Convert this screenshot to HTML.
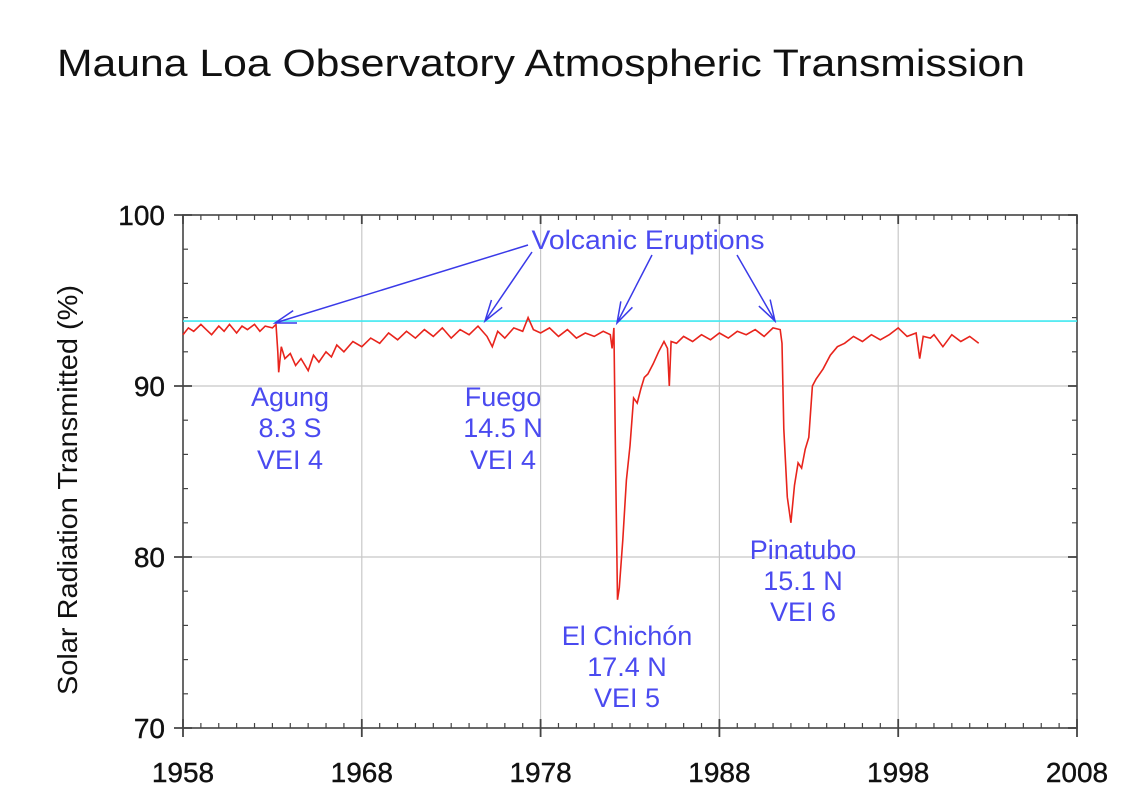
<!DOCTYPE html>
<html><head><meta charset="utf-8"><style>
body{margin:0;background:#fff;}
svg text{font-family:"Liberation Sans",Arial,sans-serif;}
</style></head><body>
<svg width="1136" height="806" xmlns="http://www.w3.org/2000/svg">
<text x="57" y="76" font-size="38" fill="#111" textLength="968" lengthAdjust="spacingAndGlyphs">Mauna Loa Observatory Atmospheric Transmission</text>
<text transform="translate(77,490) rotate(-90)" text-anchor="middle" font-size="28" fill="#111" textLength="410" lengthAdjust="spacingAndGlyphs">Solar Radiation Transmitted (%)</text>
<g id="grid"></g>
<g id="axes"></g>
<line id="ref" stroke="#40e8f0" stroke-width="1.6"/>
<path id="series" fill="none" stroke="#e8241c" stroke-width="1.6"/>
<g id="ann" fill="#4a4af0" stroke="none" font-size="27" text-anchor="middle">
<text x="648" y="249" textLength="233" lengthAdjust="spacingAndGlyphs">Volcanic Eruptions</text>
<text x="290" y="406">Agung</text>
<text x="290" y="437">8.3 S</text>
<text x="290" y="469">VEI  4</text>
<text x="503" y="406">Fuego</text>
<text x="503" y="437">14.5 N</text>
<text x="503" y="469">VEI  4</text>
<text x="627" y="645">El Chichón</text>
<text x="627" y="676">17.4 N</text>
<text x="627" y="707">VEI  5</text>
<text x="803" y="559">Pinatubo</text>
<text x="803" y="590">15.1 N</text>
<text x="803" y="621">VEI  6</text>
</g>
<g id="arrows" stroke="#3a3ae8" stroke-width="1.5" fill="none"></g>
</svg>
<script>
const xTicks=[1958,1968,1978,1988,1998,2008];
const yTicks=[70,80,90,100];
const refValue=93.8;
const years=[1958,1958.3,1958.6,1959,1959.3,1959.6,1960,1960.3,1960.6,1961,1961.3,1961.6,1962,1962.3,1962.6,1963,1963.2,1963.3,1963.35,1963.5,1963.7,1964,1964.3,1964.6,1965,1965.3,1965.6,1966,1966.3,1966.6,1967,1967.5,1968,1968.5,1969,1969.5,1970,1970.5,1971,1971.5,1972,1972.5,1973,1973.5,1974,1974.5,1975,1975.3,1975.6,1976,1976.5,1977,1977.3,1977.6,1978,1978.5,1979,1979.5,1980,1980.5,1981,1981.5,1981.9,1982.0,1982.1,1982.2,1982.3,1982.4,1982.6,1982.8,1983.0,1983.2,1983.4,1983.6,1983.8,1984,1984.3,1984.6,1984.9,1985.1,1985.2,1985.3,1985.6,1986,1986.5,1987,1987.5,1988,1988.5,1989,1989.5,1990,1990.5,1991,1991.4,1991.5,1991.6,1991.8,1992.0,1992.2,1992.4,1992.6,1992.8,1993.0,1993.2,1993.4,1993.8,1994.2,1994.6,1995,1995.5,1996,1996.5,1997,1997.5,1998,1998.5,1999,1999.2,1999.4,1999.8,2000,2000.5,2001,2001.5,2002,2002.5];
const values=[93.0,93.4,93.2,93.6,93.3,93.0,93.5,93.2,93.6,93.1,93.5,93.3,93.6,93.2,93.5,93.4,93.6,92.0,90.8,92.3,91.6,91.9,91.2,91.6,90.9,91.8,91.4,92.0,91.7,92.4,92.0,92.6,92.3,92.8,92.5,93.1,92.7,93.2,92.8,93.3,92.9,93.4,92.8,93.3,93.0,93.5,92.9,92.3,93.2,92.8,93.4,93.2,94.0,93.3,93.1,93.4,92.9,93.3,92.8,93.1,92.9,93.2,93.0,92.2,93.4,85.0,77.5,78.2,81.0,84.5,86.5,89.3,89.0,89.8,90.5,90.7,91.3,92.0,92.6,92.2,90.0,92.6,92.5,92.9,92.6,93.0,92.7,93.1,92.8,93.2,93.0,93.3,92.9,93.4,93.3,92.5,87.5,83.5,82.0,84.2,85.5,85.2,86.3,87.0,90.0,90.4,91.0,91.8,92.3,92.5,92.9,92.6,93.0,92.7,93.0,93.4,92.9,93.1,91.6,92.9,92.8,93.0,92.3,93.0,92.6,92.9,92.5];
const X0=183,X1=1077,Y0=728,Y1=215;
const xs=v=>X0+(v-1958)/(2008-1958)*(X1-X0);
const ys=v=>Y0-(v-70)/(100-70)*(Y0-Y1);
const NS="http://www.w3.org/2000/svg";
function mk(tag,attrs,parent){const e=document.createElementNS(NS,tag);for(const k in attrs)e.setAttribute(k,attrs[k]);parent.appendChild(e);return e;}
const grid=document.getElementById('grid'),axes=document.getElementById('axes');
xTicks.slice(1,-1).forEach(t=>{const l=mk('line',{x1:xs(t),x2:xs(t),y1:Y1,y2:Y0,stroke:'#c8c8c8','stroke-width':1.2},grid);

});
yTicks.slice(1,-1).forEach(t=>{const l=mk('line',{x1:X0,x2:X1,y1:ys(t),y2:ys(t),stroke:'#c8c8c8','stroke-width':1.2},grid);

});
const fr=mk('rect',{x:X0,y:Y1,width:X1-X0,height:Y0-Y1,fill:'none',stroke:'#444','stroke-width':1.6},axes);


for(let yr=1958;yr<=2008;yr++){const maj=(yr-1958)%10===0;const x=xs(yr);
mk('line',{x1:x,x2:x,y1:Y0+(maj?9:0),y2:Y0-(maj?9:5),stroke:'#444','stroke-width':maj?1.8:1.2},axes);
mk('line',{x1:x,x2:x,y1:Y1,y2:Y1+(maj?9:5),stroke:'#444','stroke-width':maj?1.8:1.2},axes);}
for(let v=70;v<=100;v+=2){const maj=v%10===0;const y=ys(v);
mk('line',{x1:X0-(maj?9:0),x2:X0+(maj?9:5),y1:y,y2:y,stroke:'#444','stroke-width':maj?1.8:1.2},axes);
mk('line',{x1:X1,x2:X1-(maj?9:5),y1:y,y2:y,stroke:'#444','stroke-width':maj?1.8:1.2},axes);}
xTicks.forEach(t=>{const e=mk('text',{x:xs(t),y:782,'text-anchor':'middle','font-size':28,fill:'#111',stroke:'#111','stroke-width':0.4},axes);e.textContent=t;

});
yTicks.forEach(t=>{const e=mk('text',{x:X0-18,y:ys(t)+10,'text-anchor':'end','font-size':28,fill:'#111',stroke:'#111','stroke-width':0.4},axes);e.textContent=t;

});
const ref=document.getElementById('ref');
ref.setAttribute('x1',X0);ref.setAttribute('x2',X1);ref.setAttribute('y1',ys(refValue));ref.setAttribute('y2',ys(refValue));
document.getElementById('series').setAttribute('d',years.map((y,i)=>(i?'L':'M')+xs(y).toFixed(1)+' '+ys(values[i]).toFixed(1)).join(' '));
const arrows=[[528,245,275,323],[532,252,485,321],[652,255,617,323],[737,255,775,321]];
const ag=document.getElementById('arrows');
arrows.forEach(a=>{const[x1,y1,x2,y2]=a;const ang=Math.atan2(y2-y1,x2-x1);const L=22,s=0.3;
const p1=[x2-L*Math.cos(ang-s),y2-L*Math.sin(ang-s)],p2=[x2-L*Math.cos(ang+s),y2-L*Math.sin(ang+s)];
const g=mk('path',{d:`M${x1} ${y1}L${x2} ${y2}M${p1[0]} ${p1[1]}L${x2} ${y2}L${p2[0]} ${p2[1]}`},ag);

});
</script>
</body></html>
